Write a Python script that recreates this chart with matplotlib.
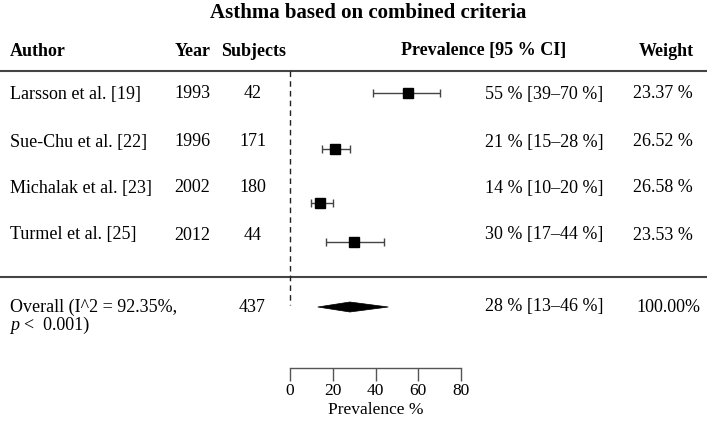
import matplotlib
matplotlib.use("Agg")
import matplotlib.pyplot as plt
from matplotlib.patches import Polygon

plt.rcParams['font.family'] = ['Liberation Serif', 'DejaVu Serif']

# ---- data ----
authors = ["Larsson et al. [19]", "Sue-Chu et al. [22]", "Michalak et al. [23]", "Turmel et al. [25]"]
years = ["1993", "1996", "2002", "2012"]
subjects = ["42", "171", "180", "44"]
prev = [55, 21, 14, 30]
ci_lo = [39, 15, 10, 17]
ci_hi = [70, 28, 20, 44]
weights = [23.37, 26.52, 26.58, 23.53]
overall_est = 28
overall_lo = 13
overall_hi = 46
overall_subjects = "437"
overall_weight = "100.00%"
overall_label = "Overall (I^2 = 92.35%,"
xticks = [0, 20, 40, 60, 80]
title = "Asthma based on combined criteria"

W, H = 707, 426
fig = plt.figure(figsize=(W / 100, H / 100), dpi=100)

# overlay axes in pixel coordinates for the table text
tx = fig.add_axes([0, 0, 1, 1])
tx.set_xlim(0, W)
tx.set_ylim(H, 0)
tx.axis('off')

# forest axes: x 0..80 from px 290 to 461, y in pixel rows from 71 to 367
x0, x1 = 290, 461
ytop, ybot = 71, 367.5
fx = fig.add_axes([x0 / W, (H - ybot) / H, (x1 - x0) / W, (ybot - ytop) / H])
fx.set_xlim(0, 80)
fx.set_ylim(ybot, ytop)
fx.patch.set_alpha(0)
for s in ['top', 'right', 'left']:
    fx.spines[s].set_visible(False)
fx.spines['bottom'].set_color('#555555')
fx.spines['bottom'].set_linewidth(1.0)
fx.set_yticks([])
fx.set_xticks(xticks)
fx.set_xticklabels([str(t) for t in xticks], fontsize=12.5)
fx.tick_params(axis='x', direction='out', length=9, width=1.0, color='#555555', pad=2)
fx.set_xlabel("Prevalence %", fontsize=12.5, labelpad=2)

text_y = [94, 142, 188, 235]
mark_y = [93, 149, 203, 242]
overall_y = 307
p_y = 325

fs = 13
# title and header
tx.text(368, 13, title, ha='center', va='center', fontsize=15, fontweight='bold')
hy = 51
tx.text(10, hy, "Author", ha='left', va='center', fontsize=fs, fontweight='bold')
tx.text(192.5, hy, "Year", ha='center', va='center', fontsize=fs, fontweight='bold')
tx.text(253.5, hy, "Subjects", ha='center', va='center', fontsize=fs, fontweight='bold')
tx.text(483.5, hy, "Prevalence [95 % CI]", ha='center', va='center', fontsize=fs, fontweight='bold')
tx.text(666, hy, "Weight", ha='center', va='center', fontsize=fs, fontweight='bold')

# horizontal rules
tx.plot([0, W], [70.5, 70.5], color='#444444', lw=1.5)
tx.plot([0, W], [277, 277], color='#444444', lw=1.5)

for i, y in enumerate(text_y):
    tx.text(10, y, authors[i], ha='left', va='center', fontsize=fs)
    tx.text(192, y, years[i], ha='center', va='center', fontsize=fs)
    tx.text(253, y, subjects[i], ha='center', va='center', fontsize=fs)
    tx.text(485, y, f"{prev[i]} % [{ci_lo[i]}\u2013{ci_hi[i]} %]", ha='left', va='center', fontsize=fs)
    tx.text(633, y, f"{weights[i]:.2f} %", ha='left', va='center', fontsize=fs)

tx.text(10, overall_y, overall_label, ha='left', va='center', fontsize=fs)
tx.text(10, p_y, "p", ha='left', va='center', fontsize=fs, fontstyle='italic')
tx.text(24, p_y, "<  0.001)", ha='left', va='center', fontsize=fs)
tx.text(252, overall_y, overall_subjects, ha='center', va='center', fontsize=fs)
tx.text(485, overall_y, f"{overall_est} % [{overall_lo}\u2013{overall_hi} %]", ha='left', va='center', fontsize=fs)
tx.text(636, overall_y, overall_weight, ha='left', va='center', fontsize=fs)

# forest marks
fx.vlines(0, ytop, 305, colors='#222222', linestyles=(0, (4, 3)), lw=1.0, clip_on=False)
for i, y in enumerate(mark_y):
    fx.errorbar(prev[i], y, xerr=[[prev[i] - ci_lo[i]], [ci_hi[i] - prev[i]]],
                fmt='none', ecolor='#444444', elinewidth=1.0, capsize=3, capthick=1.0, clip_on=False)
    size = 7.4 * (weights[i] / 25.0) ** 0.5
    fx.plot(prev[i], y, marker='s', color='black', markersize=size, clip_on=False)

dia = Polygon([(overall_lo, overall_y), (overall_est, overall_y - 5),
               (overall_hi, overall_y), (overall_est, overall_y + 5)],
              closed=True, facecolor='black', edgecolor='black', lw=0.5, clip_on=False)
fx.add_patch(dia)

fig.savefig("out.png", dpi=100)
